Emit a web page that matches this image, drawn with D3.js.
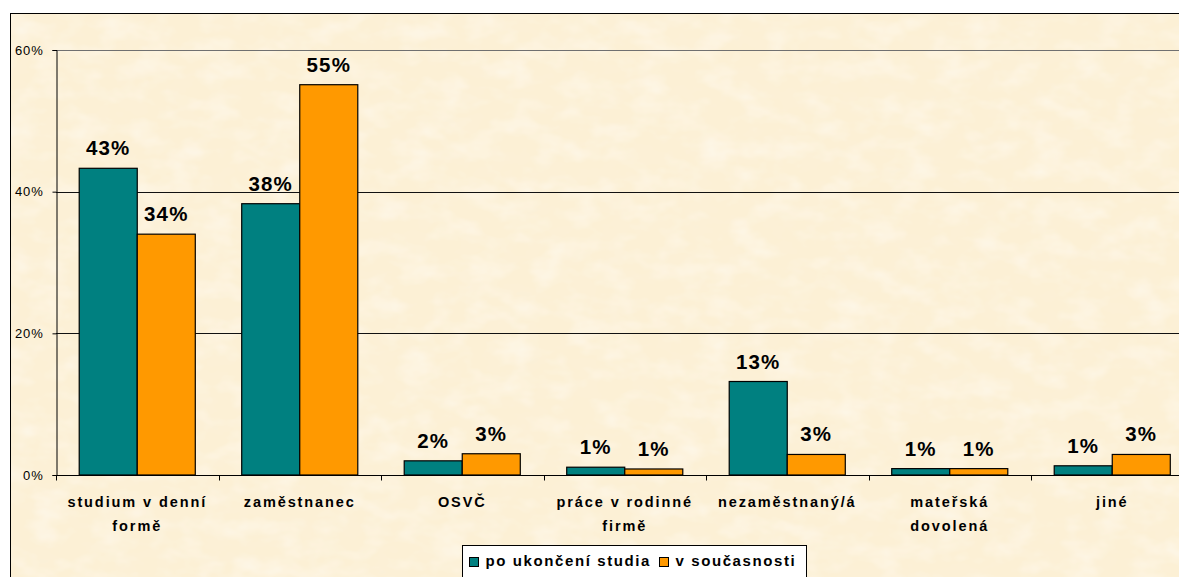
<!DOCTYPE html>
<html>
<head>
<meta charset="utf-8">
<script src="https://cdn.jsdelivr.net/npm/d3@7"></script>
<style>
  body { margin: 0; background: #fff; }
  svg { display: block; font-family: "Liberation Sans", Arial, sans-serif; }
</style>
</head>
<body>
<svg width="1179" height="577"></svg>
<script>
// data
var categories = [
  ["studium v denní", "formě"],
  ["zaměstnanec"],
  ["OSVČ"],
  ["práce v rodinné", "firmě"],
  ["nezaměstnaný/á"],
  ["mateřská", "dovolená"],
  ["jiné"]
];
var seriesNames = ["po ukončení studia", "v současnosti"];
var poUkonceni = [43.3, 38.3, 2.0, 1.1, 13.2, 0.9, 1.3];
var vSoucasnosti = [34.0, 55.1, 3.0, 0.85, 2.9, 0.9, 2.9];
var yTicks = [0, 20, 40, 60];

var colors = ["#008080", "#FF9900"];

var svg = d3.select("svg"),
    margin = {top: 50, left: 56},
    plotW = 162.5 * categories.length,
    plotH = 425;

// parchment texture
var defs = svg.append("defs");
function paper(id, freq, seed, rgb, a, b) {
  var f = defs.append("filter").attr("id", id)
    .attr("x", 0).attr("y", 0).attr("width", 1).attr("height", 1);
  f.append("feTurbulence")
    .attr("type", "fractalNoise")
    .attr("baseFrequency", freq)
    .attr("numOctaves", 3)
    .attr("seed", seed)
    .attr("result", "n");
  f.append("feColorMatrix")
    .attr("in", "n")
    .attr("type", "matrix")
    .attr("values", "0 0 0 0 " + rgb[0] + "  0 0 0 0 " + rgb[1] + "  0 0 0 0 " + rgb[2] + "  " + a + " 0 0 0 " + b);
}
paper("light", "0.03 0.05", 3, [1, 0.975, 0.93], 1.0, -0.42);
paper("dark", "0.035 0.06", 11, [0.96, 0.88, 0.7], 0.8, -0.34);

var bg = svg.append("g");
["#FCF0D5", null, null].forEach(function(c, i) {
  bg.append("rect")
    .attr("x", 10.5).attr("y", 13.5)
    .attr("width", 1200).attr("height", 600)
    .attr("fill", c || null)
    .attr("filter", i === 1 ? "url(#dark)" : i === 2 ? "url(#light)" : null);
});
svg.append("rect")
  .attr("x", 10.5).attr("y", 13.5)
  .attr("width", 1200).attr("height", 600)
  .attr("fill", "none")
  .attr("stroke", "#000");

var g = svg.append("g")
  .attr("transform", "translate(" + margin.left + "," + margin.top + ")");

var x = d3.scaleBand()
  .domain(d3.range(categories.length))
  .range([0, plotW]);

var x1 = d3.scaleBand()
  .domain([0, 1])
  .range([0, x.bandwidth()])
  .paddingOuter(0.4);

var y = d3.scaleLinear()
  .domain([0, 60])
  .range([plotH, 0]);

// gridlines
g.selectAll(".grid")
  .data(yTicks.filter(function(d) { return d > 0; }))
  .enter().append("line")
  .attr("x1", 0).attr("x2", plotW)
  .attr("y1", function(d) { return Math.round(y(d)) + 0.5; })
  .attr("y2", function(d) { return Math.round(y(d)) + 0.5; })
  .attr("stroke", function(d) { return d === 60 ? "#707070" : "#111"; })
  .attr("stroke-width", 1);

// y axis
var yAxis = g.append("g")
  .attr("transform", "translate(0.5,0)")
  .call(d3.axisLeft(y).tickValues(yTicks).tickSize(4).tickPadding(9)
    .tickFormat(function(d) { return d + "%"; }));
yAxis.select(".domain").attr("stroke", "#000");
yAxis.selectAll("text")
  .attr("font-size", 13)
  .attr("font-family", "'Liberation Sans', Arial, sans-serif")
  .attr("letter-spacing", 0.8)
  .attr("fill", "#000");

// bars
var rows = poUkonceni.map(function(v, i) { return [v, vSoucasnosti[i]]; });

var cat = g.selectAll(".cat")
  .data(rows)
  .enter().append("g")
  .attr("class", "cat")
  .attr("transform", function(d, i) { return "translate(" + x(i) + ",0)"; });

cat.selectAll("rect")
  .data(function(d) { return d; })
  .enter().append("rect")
  .attr("x", function(d, j) { return x1(j); })
  .attr("y", function(d) { return y(d); })
  .attr("width", x1.bandwidth())
  .attr("height", function(d) { return plotH - y(d); })
  .attr("fill", function(d, j) { return colors[j]; })
  .attr("stroke", "#000")
  .attr("stroke-width", 1.2);

cat.selectAll(".val")
  .data(function(d) { return d; })
  .enter().append("text")
  .attr("class", "val")
  .attr("x", function(d, j) { return x1(j) + x1.bandwidth() / 2; })
  .attr("y", function(d) { return y(d) - 13; })
  .attr("text-anchor", "middle")
  .attr("font-size", 20.5)
  .attr("font-weight", "bold")
  .attr("letter-spacing", 1.2)
  .text(function(d) { return Math.round(d) + "%"; });

// x axis
var xAxis = g.append("g")
  .attr("transform", "translate(0," + (plotH + 0.5) + ")");
xAxis.append("line")
  .attr("x1", 0).attr("x2", plotW)
  .attr("stroke", "#000");
xAxis.selectAll(".tk")
  .data(d3.range(categories.length + 1))
  .enter().append("line")
  .attr("x1", function(d) { return Math.round(d * x.step()) + 0.5; })
  .attr("x2", function(d) { return Math.round(d * x.step()) + 0.5; })
  .attr("y1", 0).attr("y2", 5)
  .attr("stroke", "#000");

xAxis.selectAll(".lbl")
  .data(categories)
  .enter().append("text")
  .attr("class", "lbl")
  .attr("text-anchor", "middle")
  .attr("font-size", 14.5)
  .attr("font-weight", "bold")
  .attr("letter-spacing", 1.9)
  .attr("transform", function(d, i) { return "translate(" + (x(i) + x.bandwidth() / 2) + ",0)"; })
  .selectAll("tspan")
  .data(function(d) { return d; })
  .enter().append("tspan")
  .attr("x", 0)
  .attr("y", function(d, k) { return 31 + k * 24; })
  .text(function(d) { return d; });

// legend
var lg = svg.append("g").attr("transform", "translate(462.5,545.5)");
lg.append("rect")
  .attr("width", 344).attr("height", 40)
  .attr("fill", "#fff")
  .attr("stroke", "#000");
var lx = [7, 197];
var item = lg.selectAll(".li")
  .data(seriesNames)
  .enter().append("g")
  .attr("transform", function(d, i) { return "translate(" + lx[i] + ",0)"; });
item.append("rect")
  .attr("x", 0).attr("y", 12)
  .attr("width", 9).attr("height", 9)
  .attr("fill", function(d, i) { return colors[i]; })
  .attr("stroke", "#000");
item.append("text")
  .attr("x", 16).attr("y", 20)
  .attr("font-size", 15)
  .attr("font-weight", "bold")
  .attr("letter-spacing", 1.6)
  .text(function(d) { return d; });
</script>
</body>
</html>
